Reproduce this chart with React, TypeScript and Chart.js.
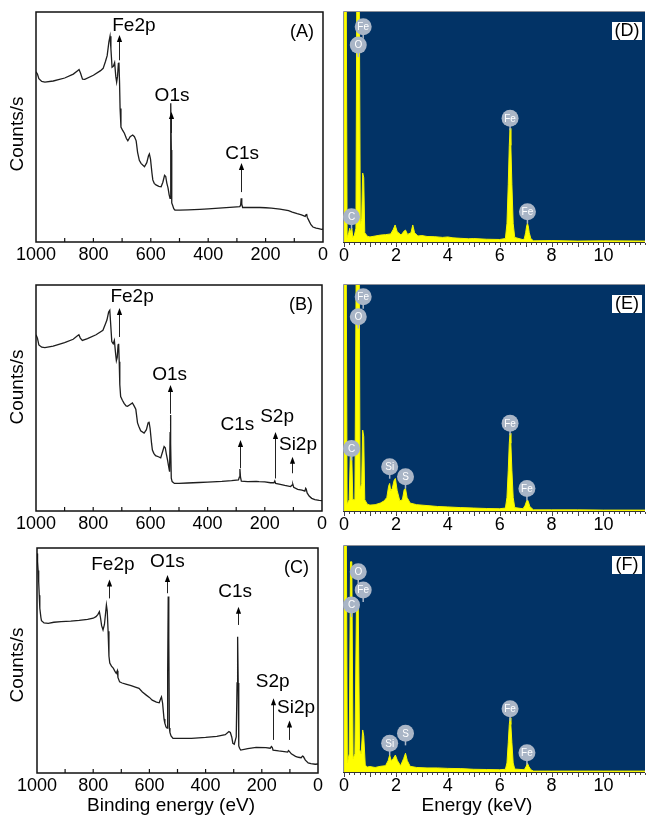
import React, { useEffect, useRef } from "react";
import { Chart, registerables } from "chart.js";
Chart.register(...registerables);

const FONT = "'Liberation Sans', Arial, Helvetica, sans-serif";

// ---------- XPS tick values ----------
const xpsTickValues = [1000, 900, 800, 700, 600, 500, 400, 300, 200, 100, 0];
const xpsTickLabels = [1000, 800, 600, 400, 200, 0];
const edsTickLabels = [0, 2, 4, 6, 8, 10];

// ---------- XPS (A) ----------
const xpsAEnergy = [1000, 995, 990, 980, 969, 940, 900, 870, 855, 850, 845, 838, 830, 800, 775, 766, 758, 752, 746, 742, 739, 735, 730, 726, 722, 719, 716, 713, 711, 709, 707, 704, 698, 692, 685, 680, 672, 663, 657, 651, 646, 640, 634, 622, 614, 608, 605, 601, 596, 593, 588, 582, 572, 564, 558, 552, 548, 544, 540, 536, 533, 531, 530, 528.5, 527, 524, 520, 516, 500, 470, 429, 400, 350, 300, 290, 287, 285, 283, 280, 250, 220, 200, 180, 150, 120, 107, 90, 75, 62, 59, 57, 55, 50, 42, 35, 24, 15, 5, 0];
const xpsACounts = [74, 73, 71, 69.8, 69.5, 70, 71.3, 73, 74.5, 75, 73.5, 70.8, 70.7, 72.5, 74.5, 75.5, 78.5, 81, 87, 89.5, 84, 76, 76.5, 78, 72, 69.5, 72, 77.5, 78, 70, 58, 50, 48.5, 47.3, 45, 44, 45.8, 46.5, 45.8, 44, 39, 35.5, 34.2, 32.7, 34.5, 37.5, 38.3, 36, 30, 27, 25.5, 24.8, 24.2, 24, 26, 29, 28.5, 25.5, 23.5, 20.5, 19, 45, 60.3, 40, 17, 16, 14.5, 13.9, 13.9, 14, 14.2, 14.4, 14.8, 15.3, 15.4, 16, 19, 16.5, 15, 15, 15, 14.9, 14.7, 14.3, 13.6, 13, 12.3, 11.8, 11.1, 11.9, 12.2, 10.8, 9.5, 7.5, 6.5, 6.0, 5.8, 5.5, 5.6];
const xpsALabels = ["Fe2p", "O1s", "C1s"];
const xpsAArrowE = [711, 530, 284];
const xpsAArrowFrom = [79, 47.4, 21.7];
const xpsAArrowTo = [90, 56.5, 34.3];
const xpsALabelE = [659, 526, 282];
const xpsALabelV = [94, 63.5, 38.3];

// ---------- XPS (B) ----------
const xpsBEnergy = [1000, 995, 990, 980, 969, 940, 900, 870, 855, 850, 845, 838, 820, 790, 766, 758, 752, 746, 742, 739, 735, 730, 726, 722, 719, 716, 713, 711, 709, 707, 704, 698, 692, 685, 680, 672, 663, 657, 651, 645, 640, 634, 622, 614, 608, 605, 601, 596, 593, 588, 582, 572, 564, 558, 552, 548, 544, 540, 536, 533, 531, 530, 528.5, 527, 524, 516, 500, 470, 430, 400, 350, 316, 292, 289, 287, 285, 282, 260, 230, 220, 200, 180, 168, 165, 162, 150, 130, 110, 104, 102, 99, 85, 70, 60, 57, 55, 52, 45, 36, 25, 10, 0];
const xpsBCounts = [78, 76.5, 73.5, 72.5, 72.3, 73, 74.5, 76, 77.5, 78, 76.5, 75.5, 76.3, 78, 80, 82.5, 84.5, 88, 88.8, 83, 75, 74, 75.5, 70, 66.5, 68, 73.5, 74, 66, 56, 50.6, 49, 47.6, 46.5, 46.3, 47, 47.8, 46.5, 45, 39, 37.3, 35.5, 34.5, 36, 39, 39.5, 36.5, 30, 27, 25.5, 24.5, 24, 23.5, 26, 28.5, 28, 25, 22.5, 19.5, 17.4, 35, 42.5, 30, 14.5, 13, 12.2, 12.2, 12.4, 12.6, 12.8, 13.1, 13.4, 13.8, 15, 18.6, 15, 13.2, 13, 13.1, 13, 12.9, 12.5, 12.5, 13.3, 12.2, 11.9, 11.3, 10.8, 11.5, 11.8, 10.5, 9.6, 9.2, 8.8, 10, 9.6, 8, 6.6, 5.6, 5, 4.7, 4.6];
const xpsBLabels = ["Fe2p", "O1s", "C1s", "S2p", "Si2p"];
const xpsBArrowE = [711, 530, 285, 164, 104];
const xpsBArrowFrom = [77, 43, 18.9, 14.4, 16.7];
const xpsBArrowTo = [89.8, 55.7, 31.4, 35, 24];
const xpsBLabelE = [664, 533, 296, 157, 84];
const xpsBLabelV = [94.8, 60.2, 38, 41.7, 29.2];

// ---------- XPS (C) ----------
const xpsCEnergy = [1000, 998, 996, 994, 992, 990, 986, 984, 975, 960, 940, 914, 880, 850, 820, 800, 790, 783, 778, 774, 770, 765, 760, 756, 753, 750, 747, 744, 741, 735, 728, 722, 718, 714, 712, 706, 697, 684, 665, 650, 637, 625, 610, 600, 590, 575, 565, 560, 557, 553, 548, 545, 541, 537, 535, 533, 531, 529, 527, 523, 516, 500, 450, 400, 360, 330, 317, 312, 307, 303, 298, 291, 288, 286, 284, 282, 279, 275, 250, 220, 186, 170, 166, 163, 160, 140, 120, 108, 105, 102, 95, 80, 70, 60, 55, 52, 45, 35, 25, 10, 0];
const xpsCCounts = [97.6, 94, 90, 85, 79, 73.2, 69, 67.7, 66.7, 66.5, 67, 67.3, 67.5, 67.8, 68.3, 68.8, 69.5, 70.5, 71.7, 69, 65.5, 63.6, 66, 71, 74.7, 72, 63, 52, 48.9, 47.5, 46.5, 45, 44.3, 45.5, 42.5, 40.5, 40, 39.5, 38.8, 38.2, 37.6, 36, 34.5, 33.6, 32.4, 31.5, 31.2, 33, 33.8, 31, 24, 22.1, 20.5, 20, 45, 78.4, 60, 20, 18, 16.5, 15.4, 15.4, 15.4, 15.8, 16.3, 17, 18.4, 18, 16, 13.2, 12.8, 16, 40, 60.6, 40, 12, 11, 10.2, 10.8, 11.4, 11.3, 11, 11.8, 11.4, 10.2, 9.8, 9.5, 9.3, 10, 9.6, 8.5, 7.4, 7.0, 6.8, 7.5, 7.3, 5.7, 4.5, 4.2, 3.9, 4];
const xpsCLabels = ["Fe2p", "O1s", "C1s", "S2p", "Si2p"];
const xpsCArrowE = [745, 536, 283, 161, 103];
const xpsCArrowFrom = [77.6, 79.9, 65.8, 14.7, 14.7];
const xpsCArrowTo = [86, 88, 73.9, 33.2, 23.3];
const xpsCLabelE = [730, 536, 295, 161, 78];
const xpsCLabelV = [92.4, 93.9, 80.6, 40.6, 28.8];

// ---------- EDS (D) ----------
const edsDKeV = [0, 0.02, 0.08, 0.12, 0.18, 0.22, 0.26, 0.3, 0.34, 0.4, 0.46, 0.5, 0.58, 0.63, 0.68, 0.72, 0.76, 0.8, 0.9, 1.0, 1.2, 1.4, 1.6, 1.8, 1.9, 1.97, 2.05, 2.2, 2.32, 2.37, 2.45, 2.58, 2.65, 2.72, 2.85, 3.0, 3.2, 3.5, 3.8, 4.0, 4.2, 4.5, 4.8, 5.0, 5.5, 6.0, 6.22, 6.28, 6.33, 6.37, 6.40, 6.43, 6.47, 6.52, 6.58, 6.9, 6.95, 7.0, 7.04, 7.07, 7.10, 7.14, 7.2, 7.3, 8, 9, 10, 11.6];
const edsDCounts = [0, 130, 130, 2, 4, 6, 4, 6, 2, 3, 6, 130, 130, 8, 10, 30, 28, 4, 2.5, 2.2, 2.6, 3, 3.2, 3.5, 5.5, 7.4, 4.5, 3, 4.8, 5.2, 3.3, 4, 7.4, 4, 2.6, 2.8, 2.4, 2.3, 2.0, 2.2, 1.8, 1.6, 1.4, 1.5, 1.2, 1.1, 1.5, 8, 25, 42, 49.4, 42, 25, 8, 2, 1, 1.5, 4, 7, 8.1, 7, 4, 1.5, 0.5, 0.6, 0.4, 0.5, 0.4];
const edsDLabels = ["Fe", "O", "C", "Fe", "Fe"];
const edsDLabelKeV = [0.74, 0.55, 0.29, 6.40, 7.07];
const edsDLabelV = [93.6, 85.6, 11, 53.8, 13.2];

// ---------- EDS (E) ----------
const edsEKeV = [0, 0.02, 0.08, 0.12, 0.2, 0.24, 0.3, 0.34, 0.42, 0.48, 0.58, 0.62, 0.68, 0.72, 0.76, 0.8, 0.9, 1.0, 1.2, 1.4, 1.55, 1.65, 1.72, 1.76, 1.8, 1.86, 1.93, 1.98, 2.05, 2.15, 2.25, 2.32, 2.37, 2.43, 2.55, 2.8, 3.2, 3.6, 4.0, 4.5, 5.0, 5.5, 6.0, 6.22, 6.28, 6.33, 6.37, 6.40, 6.43, 6.47, 6.52, 6.58, 6.9, 6.98, 7.04, 7.07, 7.1, 7.16, 7.3, 8, 9, 10, 11.6];
const edsECounts = [0, 130, 130, 3, 5, 24, 24, 5, 5, 130, 130, 10, 12, 35.8, 33, 5, 3, 2.6, 2.8, 3.5, 4.5, 6, 11, 12.2, 9, 10, 13.5, 14.4, 9, 4.5, 5, 9.5, 10, 6, 3.5, 2.8, 2.4, 2, 1.8, 1.5, 1.3, 1.1, 1, 1.3, 6, 18, 30, 34.4, 30, 18, 6, 1.5, 1, 2.5, 4.5, 4.9, 4.3, 2, 0.5, 0.5, 0.5, 0.4, 0.4];
const edsELabels = ["Fe", "O", "C", "Si", "S", "Fe", "Fe"];
const edsELabelKeV = [0.74, 0.55, 0.29, 1.76, 2.37, 6.40, 7.05];
const edsELabelV = [94.8, 86, 27.7, 19.6, 15.2, 38.8, 10];

// ---------- EDS (F) ----------
const edsFKeV = [0, 0.02, 0.08, 0.13, 0.2, 0.25, 0.3, 0.35, 0.42, 0.48, 0.55, 0.6, 0.66, 0.72, 0.76, 0.82, 0.9, 1.0, 1.2, 1.4, 1.6, 1.7, 1.76, 1.82, 1.9, 1.98, 2.06, 2.18, 2.3, 2.37, 2.44, 2.55, 2.8, 3.2, 3.6, 4.0, 4.5, 5, 5.5, 6, 6.22, 6.28, 6.33, 6.37, 6.40, 6.43, 6.47, 6.52, 6.58, 6.95, 7.02, 7.07, 7.12, 7.2, 7.3, 8, 9, 10, 11.6];
const edsFCounts = [0, 130, 130, 4, 8, 93, 93, 6, 8, 74, 73, 10, 8, 18.6, 16, 3, 2.2, 2.4, 2.0, 2.5, 2.8, 5, 7.5, 5, 6, 7.5, 5, 2.8, 6, 8.3, 5, 2.5, 2, 1.8, 1.8, 1.6, 1.5, 1.2, 1.1, 1, 1.2, 4, 13, 21, 24, 21, 13, 4, 1.3, 1, 2.5, 3.9, 2.5, 1, 0.4, 0.4, 0.4, 0.4, 0.4];
const edsFLabels = ["O", "Fe", "C", "Si", "S", "Fe", "Fe"];
const edsFLabelKeV = [0.55, 0.74, 0.29, 1.76, 2.37, 6.40, 7.05];
const edsFLabelV = [88.6, 80.5, 73.9, 12.7, 17.1, 28, 8.5];

// ---------- layout ----------
const xpsPanels = [
  { id: "A", left: 0, top: 0, width: 330, height: 270, area: { left: 36, top: 12, right: 323, bottom: 242 }, energy: xpsAEnergy, counts: xpsACounts, labels: xpsALabels, arrowE: xpsAArrowE, from: xpsAArrowFrom, to: xpsAArrowTo, labelE: xpsALabelE, labelV: xpsALabelV, yTitleY: 134, xTitle: "" },
  { id: "B", left: 0, top: 270, width: 330, height: 270, area: { left: 36, top: 15, right: 322, bottom: 241 }, energy: xpsBEnergy, counts: xpsBCounts, labels: xpsBLabels, arrowE: xpsBArrowE, from: xpsBArrowFrom, to: xpsBArrowTo, labelE: xpsBLabelE, labelV: xpsBLabelV, yTitleY: 117, xTitle: "" },
  { id: "C", left: 0, top: 540, width: 330, height: 276, area: { left: 37, top: 8, right: 318, bottom: 233 }, energy: xpsCEnergy, counts: xpsCCounts, labels: xpsCLabels, arrowE: xpsCArrowE, from: xpsCArrowFrom, to: xpsCArrowTo, labelE: xpsCLabelE, labelV: xpsCLabelV, yTitleY: 125, xTitle: "Binding energy (eV)" },
];

const edsPanels = [
  { id: "D", left: 330, top: 0, width: 318, height: 270, area: { left: 14, top: 12, right: 318, bottom: 242 }, kev: edsDKeV, counts: edsDCounts, labels: edsDLabels, labelKeV: edsDLabelKeV, labelV: edsDLabelV, xTitle: "" },
  { id: "E", left: 330, top: 270, width: 318, height: 270, area: { left: 14, top: 15, right: 318, bottom: 241 }, kev: edsEKeV, counts: edsECounts, labels: edsELabels, labelKeV: edsELabelKeV, labelV: edsELabelV, xTitle: "" },
  { id: "F", left: 330, top: 540, width: 318, height: 276, area: { left: 14, top: 6, right: 318, bottom: 232 }, kev: edsFKeV, counts: edsFCounts, labels: edsFLabels, labelKeV: edsFLabelKeV, labelV: edsFLabelV, xTitle: "Energy (keV)" },
];

function drawArrow(ctx: CanvasRenderingContext2D, x: number, y0: number, y1: number) {
  ctx.beginPath();
  ctx.moveTo(x, y0);
  ctx.lineTo(x, y1 + 4);
  ctx.stroke();
  ctx.beginPath();
  ctx.moveTo(x, y1);
  ctx.lineTo(x - 2.6, y1 + 7);
  ctx.lineTo(x + 2.6, y1 + 7);
  ctx.closePath();
  ctx.fill();
}

function makeXps(p: any) {
  const plugin = {
    id: "xpsDecor",
    afterDraw(chart: any) {
      const ctx: CanvasRenderingContext2D = chart.ctx;
      const a = chart.chartArea;
      const x = chart.scales.x;
      const y = chart.scales.y;
      ctx.save();
      ctx.strokeStyle = "#111";
      ctx.lineWidth = 1.5;
      ctx.strokeRect(a.left, a.top, a.right - a.left, a.bottom - a.top);
      ctx.lineWidth = 1.2;
      x.ticks.forEach((t: any) => {
        const px = x.getPixelForValue(t.value);
        if (px <= a.left + 1 || px >= a.right - 1) return;
        ctx.beginPath();
        ctx.moveTo(px, a.bottom);
        ctx.lineTo(px, a.bottom - 4);
        ctx.stroke();
      });
      ctx.fillStyle = "#000";
      ctx.strokeStyle = "#222";
      ctx.lineWidth = 1;
      ctx.font = `19px ${FONT}`;
      ctx.textAlign = "center";
      ctx.textBaseline = "middle";
      p.labels.forEach((lab: string, i: number) => {
        const ax = Math.round(x.getPixelForValue(p.arrowE[i])) + 0.5;
        drawArrow(ctx, ax, y.getPixelForValue(p.from[i]), y.getPixelForValue(p.to[i]));
        ctx.fillText(lab, x.getPixelForValue(p.labelE[i]), y.getPixelForValue(p.labelV[i]));
      });
      ctx.font = `18px ${FONT}`;
      ctx.textAlign = "right";
      ctx.fillText(`(${p.id})`, a.right - 9, a.top + 20);
      ctx.save();
      ctx.translate(18, p.yTitleY);
      ctx.rotate(-Math.PI / 2);
      ctx.textAlign = "center";
      ctx.font = `19px ${FONT}`;
      ctx.fillText("Counts/s", 0, 0);
      ctx.restore();
      if (p.xTitle) {
        ctx.textAlign = "center";
        ctx.font = `19px ${FONT}`;
        ctx.fillText(p.xTitle, 171, p.height - 10);
      }
      ctx.restore();
    },
  };
  return {
    type: "line",
    data: {
      datasets: [
        {
          data: p.energy.map((e: number, i: number) => ({ x: e, y: p.counts[i] })),
          borderColor: "#1e1e1e",
          borderWidth: 1.3,
          pointRadius: 0,
          tension: 0,
          fill: false,
        },
      ],
    },
    options: {
      responsive: false,
      animation: false,
      events: [],
      layout: { padding: { left: p.area.left, right: p.width - p.area.right, top: p.area.top, bottom: 0 } },
      plugins: { legend: { display: false }, tooltip: { enabled: false } },
      scales: {
        x: {
          type: "linear",
          min: 0,
          max: 1000,
          reverse: true,
          grid: { display: false, drawTicks: false, tickLength: 0 },
          border: { display: false },
          afterBuildTicks: (s: any) => {
            s.ticks = xpsTickValues.map((v) => ({ value: v }));
          },
          afterFit: (s: any) => {
            s.height = p.height - p.area.bottom;
          },
          ticks: {
            autoSkip: false,
            maxRotation: 0,
            minRotation: 0,
            padding: 2,
            color: "#000",
            font: { family: FONT, size: 18 },
            callback: (v: number) => (xpsTickLabels.includes(v) ? String(v) : ""),
          },
        },
        y: { display: false, min: 0, max: 100 },
      },
    },
    plugins: [plugin],
  };
}

function makeEds(p: any) {
  const ticks: number[] = [];
  for (let i = 0; i <= 58; i++) ticks.push(Math.round(i * 2) / 10);
  const plugin = {
    id: "edsDecor",
    beforeDraw(chart: any) {
      const ctx: CanvasRenderingContext2D = chart.ctx;
      const a = chart.chartArea;
      ctx.save();
      ctx.fillStyle = "#023366";
      ctx.fillRect(a.left, a.top, a.right - a.left, a.bottom - a.top);
      ctx.restore();
    },
    afterDraw(chart: any) {
      const ctx: CanvasRenderingContext2D = chart.ctx;
      const a = chart.chartArea;
      const x = chart.scales.x;
      const y = chart.scales.y;
      ctx.save();
      ctx.strokeStyle = "#8a8f99";
      ctx.lineWidth = 1;
      ctx.beginPath();
      ctx.moveTo(a.left - 0.5, a.bottom);
      ctx.lineTo(a.left - 0.5, a.top - 0.5);
      ctx.lineTo(a.right, a.top - 0.5);
      ctx.stroke();
      ctx.strokeStyle = "#333";
      ctx.beginPath();
      ctx.moveTo(a.left - 1, a.bottom + 0.5);
      ctx.lineTo(a.right, a.bottom + 0.5);
      ctx.stroke();
      ctx.strokeStyle = "#444";
      x.ticks.forEach((t: any) => {
        const px = Math.round(x.getPixelForValue(t.value)) + 0.5;
        const major = Math.abs(t.value - Math.round(t.value)) < 1e-6;
        ctx.beginPath();
        ctx.moveTo(px, a.bottom + 1);
        ctx.lineTo(px, a.bottom + (major ? 5 : 3));
        ctx.stroke();
      });
      p.labels.forEach((lab: string, i: number) => {
        const cx = x.getPixelForValue(p.labelKeV[i]);
        const cy = y.getPixelForValue(p.labelV[i]);
        ctx.strokeStyle = "#aab6c6";
        ctx.lineWidth = 1.5;
        ctx.beginPath();
        ctx.moveTo(cx, cy + 7);
        ctx.lineTo(cx, cy + 12);
        ctx.stroke();
        ctx.fillStyle = "#a9b5c6";
        ctx.beginPath();
        ctx.arc(cx, cy, 8.5, 0, Math.PI * 2);
        ctx.fill();
        ctx.fillStyle = "#ffffff";
        ctx.font = `10px ${FONT}`;
        ctx.textAlign = "center";
        ctx.textBaseline = "middle";
        ctx.fillText(lab, cx, cy + 0.5);
      });
      ctx.fillStyle = "#ffffff";
      ctx.fillRect(a.right - 33, a.top + 10, 30, 18);
      ctx.fillStyle = "#000";
      ctx.font = `18px ${FONT}`;
      ctx.textAlign = "center";
      ctx.textBaseline = "middle";
      ctx.fillText(`(${p.id})`, a.right - 18, a.top + 19.5);
      if (p.xTitle) {
        ctx.font = `19px ${FONT}`;
        ctx.fillText(p.xTitle, 147, p.height - 10);
      }
      ctx.restore();
    },
  };
  return {
    type: "line",
    data: {
      datasets: [
        {
          data: p.kev.map((e: number, i: number) => ({ x: e, y: p.counts[i] })),
          borderColor: "#f4f400",
          backgroundColor: "#ffff00",
          borderWidth: 1,
          pointRadius: 0,
          tension: 0,
          fill: "origin",
        },
      ],
    },
    options: {
      responsive: false,
      animation: false,
      events: [],
      layout: { padding: { left: p.area.left, right: p.width - p.area.right, top: p.area.top, bottom: 0 } },
      plugins: { legend: { display: false }, tooltip: { enabled: false } },
      scales: {
        x: {
          type: "linear",
          min: 0,
          max: 11.6,
          grid: { display: false, drawTicks: false, tickLength: 0 },
          border: { display: false },
          afterBuildTicks: (s: any) => {
            s.ticks = ticks.map((v) => ({ value: v }));
          },
          afterFit: (s: any) => {
            s.height = p.height - p.area.bottom;
          },
          ticks: {
            autoSkip: false,
            maxRotation: 0,
            minRotation: 0,
            padding: 3,
            color: "#000",
            font: { family: FONT, size: 18 },
            callback: (v: number) => {
              const r = Math.round(v);
              return Math.abs(v - r) < 1e-6 && edsTickLabels.includes(r) ? String(r) : "";
            },
          },
        },
        y: { display: false, min: 0, max: 100 },
      },
    },
    plugins: [plugin],
  };
}

function ChartCanvas({ left, top, width, height, make }: any) {
  const ref = useRef<HTMLCanvasElement | null>(null);
  useEffect(() => {
    if (!ref.current) return;
    const chart = new Chart(ref.current, make());
    return () => chart.destroy();
  }, []);
  return (
    <canvas
      ref={ref}
      width={width}
      height={height}
      style={{ position: "absolute", left, top, width, height }}
    />
  );
}

export default function App() {
  return (
    <div style={{ position: "absolute", left: 0, top: 0, width: 648, height: 816, background: "#fff", overflow: "hidden" }}>
      {xpsPanels.map((p) => (
        <ChartCanvas key={p.id} left={p.left} top={p.top} width={p.width} height={p.height} make={() => makeXps(p)} />
      ))}
      {edsPanels.map((p) => (
        <ChartCanvas key={p.id} left={p.left} top={p.top} width={p.width} height={p.height} make={() => makeEds(p)} />
      ))}
    </div>
  );
}
